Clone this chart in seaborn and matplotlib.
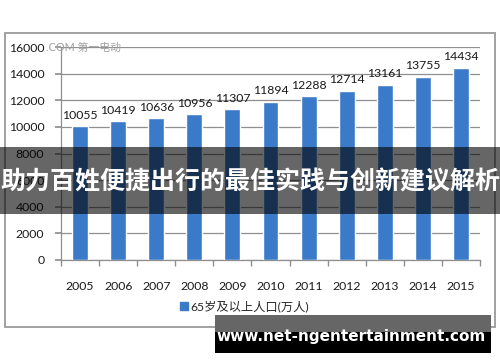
import matplotlib
matplotlib.use("Agg")
import matplotlib.pyplot as plt
import seaborn as sns
import pandas as pd
from matplotlib.patches import Rectangle
from matplotlib.lines import Line2D

years = ["2005", "2006", "2007", "2008", "2009", "2010", "2011", "2012", "2013", "2014", "2015"]
population = [10055, 10419, 10636, 10956, 11307, 11894, 12288, 12714, 13161, 13755, 14434]
yticks = [0, 2000, 4000, 6000, 8000, 10000, 12000, 14000, 16000]
legend_label = "65岁及以上人口(万人)"
banner = "助力百姓便捷出行的最佳实践与创新建议解析"
site = "www.net-ngentertainment.com"
corner_mark = ".COM 第一电动"

sns.set_theme(style="white")
plt.rcParams['font.family'] = ['Lato', 'Noto Sans CJK SC', 'DejaVu Sans']

W, H = 500, 362
fig = plt.figure(figsize=(W / 100, H / 100), dpi=100)
fig.patch.set_facecolor("white")

def fx(px):
    return px / W

def fy(py):
    return (H - py) / H

# outer chart frame
fig.patches.append(Rectangle((fx(5), fy(327)), fx(490), 294 / H, transform=fig.transFigure,
                             fill=False, edgecolor="#9a9a9a", linewidth=1.3, zorder=0))

ax = fig.add_axes([fx(61), fy(260), fx(480 - 61), (260 - 47) / H])
df = pd.DataFrame({"year": years, "pop": population})
sns.barplot(data=df, x="year", y="pop", ax=ax, color="#3b7ac8", width=0.42,
            saturation=1, zorder=3)
ax.set_ylim(0, 16000)
ax.set_xlim(-0.5, len(years) - 0.5)
ax.set_yticks(yticks)
ax.set_yticklabels([str(v) for v in yticks])
ax.yaxis.grid(True, color="#8f8f8f", linewidth=0.9)
ax.set_axisbelow(True)
ax.set_xlabel("")
ax.set_ylabel("")
for s in ["top", "right"]:
    ax.spines[s].set_visible(False)
for s in ["left", "bottom"]:
    ax.spines[s].set_color("#8f8f8f")
    ax.spines[s].set_linewidth(0.9)
ax.tick_params(axis="y", which="major", left=True, length=4, color="#8f8f8f",
               labelsize=8.8, labelcolor="#1a1a1a", pad=8)
ax.tick_params(axis="x", which="major", bottom=False, labelsize=8.8,
               labelcolor="#1a1a1a", pad=9)
ax.set_xticks([i + 0.5 for i in range(-1, len(years))], minor=True)
ax.tick_params(axis="x", which="minor", bottom=True, length=4, color="#8f8f8f")
ax.bar_label(ax.containers[0], labels=[str(v) for v in population],
             padding=4, fontsize=8.8, color="#1a1a1a")

# legend
handle = Line2D([], [], marker="s", linestyle="none", color="#3b7ac8", markersize=6)
fig.legend([handle], [legend_label], loc="center left",
           bbox_to_anchor=(fx(178), fy(306)), frameon=False, fontsize=8.8,
           handletextpad=0.05, borderaxespad=0, borderpad=0, handlelength=1)

# corner watermark
fig.text(fx(46), fy(47), corner_mark, color="#a0a0a0", fontsize=7.8, va="center", ha="left")

# banner overlay
fig.patches.append(Rectangle((0, fy(214)), 1, 67 / H, transform=fig.transFigure,
                             facecolor="black", alpha=0.6, edgecolor="none", zorder=10))
fig.text(0.5, fy(182), banner, color="white", fontsize=18, fontweight="bold",
         ha="center", va="center", family=['Noto Sans CJK SC', 'DejaVu Sans'], zorder=11)

# site watermark
fig.patches.append(Rectangle((fx(215), fy(332)), fx(276), 17 / H, transform=fig.transFigure,
                             facecolor="#666666", edgecolor="none", zorder=10))
fig.patches.append(Rectangle((fx(215), fy(353)), fx(276), 21 / H, transform=fig.transFigure,
                             facecolor="black", edgecolor="none", zorder=10))
fig.text(fx(351), fy(337), site, color="white", fontsize=11, fontweight="bold",
         ha="center", va="center", family=['DejaVu Sans'], zorder=11)

fig.savefig("out.png", dpi=100)
